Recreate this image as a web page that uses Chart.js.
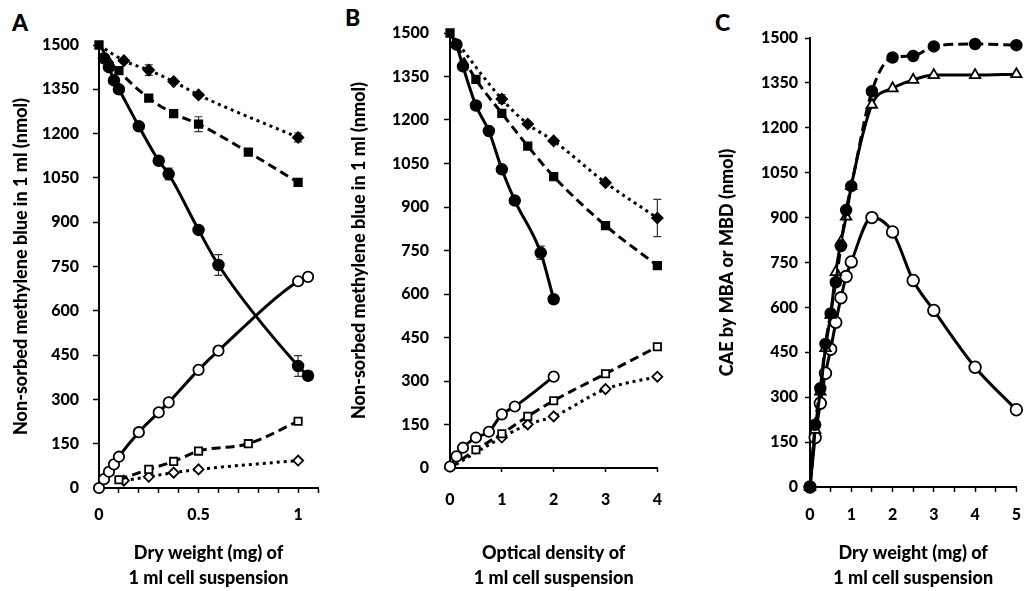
<!DOCTYPE html>
<html><head><meta charset="utf-8">
<script src="https://cdn.jsdelivr.net/npm/chart.js@4/dist/chart.umd.min.js"></script>
<style>
html,body{margin:0;padding:0;background:#fff;width:1034px;height:591px;overflow:hidden;}
canvas{position:absolute;top:0;}
.lbl{position:absolute;font:900 23px Lato, "Open Sans", sans-serif;line-height:1;color:#000;}
</style></head><body>
<div class="lbl" style="left:12px;top:11px">A</div>
<div class="lbl" style="left:345px;top:6px">B</div>
<div class="lbl" style="left:715px;top:11px">C</div>
<canvas id="ca" width="330" height="591" style="left:0px"></canvas>
<canvas id="cb" width="342" height="591" style="left:338px"></canvas>
<canvas id="cc" width="328" height="591" style="left:706px"></canvas>
<script>
// ---------- Panel A: dry weight (mg) ----------
const aCircX      = [0.025,0.05,0.075,0.1,0.2,0.3,0.35,0.5,0.6,1,1.05];
const aCircFilled = [1455,1425,1380,1350,1225,1108,1063,874,755,413,380];
const aCircFilledErr = [0,0,0,0,0,0,20,0,35,35,0];
const aOpenCircX  = [0,0.025,0.05,0.075,0.1,0.2,0.3,0.35,0.5,0.6,1,1.05];
const aCircOpen   = [0,30,55,80,106,189,256,290,400,465,700,715];
const aSqX        = [0,0.1,0.25,0.375,0.5,0.75,1];
const aSqFilled   = [1500,1413,1320,1268,1232,1137,1035];
const aSqFilledErr= [0,0,0,0,25,0,0];
const aDiaX       = [0,0.125,0.25,0.375,0.5,1];
const aDiaFilled  = [1500,1447,1415,1376,1331,1187];
const aDiaFilledErr=[0,0,18,0,0,15];
const aOpenSqX    = [0.1,0.25,0.375,0.5,0.75,1];
const aSqOpen     = [28,63,90,125,150,226];
const aOpenDiaX   = [0.125,0.25,0.375,0.5,1];
const aDiaOpen    = [25,38,52,63,93];
const aXLabels    = [0,0.5,1];

// ---------- Panel B: optical density ----------
const bCircX      = [0.125,0.25,0.5,0.75,1,1.25,1.75,2];
const bCircFilled = [1460,1385,1250,1162,1030,922,742,582];
const bCircFilledErr = [0,0,0,0,0,0,23,0];
const bOpenCircX  = [0,0.125,0.25,0.5,0.75,1,1.25,2];
const bCircOpen   = [5,40,70,105,125,185,212,315];
const bSqX        = [0,0.5,1,1.5,2,3,4];
const bSqFilled   = [1500,1340,1223,1110,1005,836,698];
const bSqOpen     = [0,63,118,178,232,325,418];
const bDiaX       = [0,1,1.5,2,3,4];
const bDiaFilled  = [1500,1272,1186,1128,984,862];
const bDiaFilledErr=[0,15,0,0,0,64];
const bDiaOpen    = [0,105,150,178,272,315];
const bXLabels    = [0,1,2,3,4];

// ---------- Panel C: CAE ----------
const cX        = [0,0.125,0.25,0.375,0.5,0.625,0.75,0.875,1,1.5,2,2.5,3,4,5];
const cCircFilled = [0,208,330,478,580,684,805,925,1005,1322,1435,1440,1472,1480,1476];
const cTriOpen    = [0,191,319,464,575,718,819,903,1005,1277,1332,1360,1376,1376,1379];
const cCircOpen   = [0,165,280,380,460,550,632,703,752,900,852,690,590,400,258];
const cXLabels    = [0,1,2,3,4,5];

const yTitleAB = 'Non-sorbed methylene blue in 1 ml (nmol)';
const yTitleC  = 'CAE by MBA or MBD (nmol)';
const xTitleDW = ['Dry weight (mg) of','1 ml cell suspension'];
const xTitleOD = ['Optical density of','1 ml cell suspension'];

Chart.defaults.font.family = 'Lato, "Open Sans", sans-serif';
Chart.defaults.color = '#000';

function pts(xs, ys){ return xs.map((x,i)=>({x:x, y:ys[i]})); }
function ds(xs, ys, o){
  return Object.assign({
    data: pts(xs, ys), borderColor:'#000', borderWidth:3,
    pointBorderColor:'#000', pointBorderWidth:1.5, pointRadius:5.5,
    pointBackgroundColor:'#000', clip:false, fill:false,
    cubicInterpolationMode:'monotone'
  }, o);
}
const DASH=[9,5], DOT=[3,4];
const filledC = {pointStyle:'circle', pointBackgroundColor:'#000'};
const openC   = {pointStyle:'circle', pointBackgroundColor:'#fff', pointBorderWidth:1.8, pointRadius:5.2};
const filledS = {pointStyle:'rect', pointBackgroundColor:'#000', pointRadius:5.5};
const openS   = {pointStyle:'rect', pointBackgroundColor:'#fff', pointBorderWidth:1.8, pointRadius:5.2};
const filledD = {pointStyle:'rectRot', pointBackgroundColor:'#000', pointRadius:5.5};
const openD   = {pointStyle:'rectRot', pointBackgroundColor:'#fff', pointBorderWidth:1.8, pointRadius:5};
const openT   = {pointStyle:'triangle', pointBackgroundColor:'#fff', pointBorderWidth:1.8, pointRadius:6};

const errPlugin = {
  id:'errbars',
  beforeDatasetsDraw(chart){
    const ctx = chart.ctx, ys = chart.scales.y;
    chart.data.datasets.forEach((d,i)=>{
      if(!d.err) return;
      const meta = chart.getDatasetMeta(i);
      ctx.save(); ctx.strokeStyle='#333'; ctx.lineWidth=1.2;
      d.err.forEach((e,j)=>{
        if(!e) return;
        const p = meta.data[j], v = d.data[j].y;
        const y1 = ys.getPixelForValue(v+e), y2 = ys.getPixelForValue(v-e);
        ctx.beginPath();
        ctx.moveTo(p.x,y1); ctx.lineTo(p.x,y2);
        ctx.moveTo(p.x-4,y1); ctx.lineTo(p.x+4,y1);
        ctx.moveTo(p.x-4,y2); ctx.lineTo(p.x+4,y2);
        ctx.stroke();
      });
      ctx.restore();
    });
  }
};

function near(v, list){ return list.some(t=>Math.abs(t-v)<1e-6); }
const TICKFONT = {size:16, weight:'900'};
const TITLEFONT = {size:18, weight:'900'};

function makeChart(id, datasets, o){
  return new Chart(document.getElementById(id), {
    type:'line',
    data:{datasets:datasets},
    plugins:[errPlugin],
    options:{
      responsive:false, animation:false,
      layout:{padding:{top:o.top, right:o.right, bottom:0, left:0}},
      plugins:{legend:{display:false}, tooltip:{enabled:false}},
      elements:{line:{borderCapStyle:'butt'}},
      scales:{
        x:{
          type:'linear', min:o.xmin, max:o.xmax,
          ticks:{stepSize:o.xstep, autoSkip:false, maxRotation:0, minRotation:0,
                 padding:o.xpad, font:TICKFONT, color:'#000',
                 callback:(v)=> near(v,o.xlabels) ? String(Math.round(v*10)/10) : ''},
          grid:{drawOnChartArea:false, drawTicks:true, tickLength:o.xtl, tickWidth:1.5, tickColor:'#000'},
          border:{display:true, color:'#000', width:2},
          title:{display:true, text:o.xtitle, color:'#000',
                 font:Object.assign({lineHeight:1.4}, TITLEFONT), padding:{top:0,bottom:0}},
          afterFit(s){ s.height = o.xh; }
        },
        y:{
          type:'linear', min:0, max:1500,
          ticks:{stepSize:150, autoSkip:false, padding:o.ypad,
                 font:TICKFONT, color:'#000', callback:(v)=>String(Math.round(v))},
          grid:{drawOnChartArea:false, drawTicks:true, tickLength:o.ytl, tickWidth:1.5, tickColor:'#000'},
          border:{display:true, color:'#000', width:2},
          title:{display:true, text:o.ytitle, color:'#000',
                 font:Object.assign({lineHeight:1.2}, TITLEFONT), padding:{top:10,bottom:0}},
          afterFit(s){ s.width = o.yw; }
        }
      }
    }
  });
}

// Panel A
makeChart('ca', [
  ds(aCircX, aCircFilled, Object.assign({err:aCircFilledErr}, filledC)),
  ds(aSqX, aSqFilled, Object.assign({err:aSqFilledErr, borderDash:DASH}, filledS)),
  ds(aDiaX, aDiaFilled, Object.assign({err:aDiaFilledErr, borderDash:DOT}, filledD, {pointRadius:[0,5.5,5.5,5.5,5.5,5.5]})),
  ds(aOpenCircX, aCircOpen, openC),
  ds(aOpenSqX, aSqOpen, Object.assign({borderDash:DASH}, openS)),
  ds(aOpenDiaX, aDiaOpen, Object.assign({borderDash:DOT}, openD))
], {top:45, right:12, xmin:0, xmax:1.1, xstep:0.1, xlabels:aXLabels, xpad:12, xtl:5, xh:103,
    ypad:14, ytl:6, yw:99, xtitle:xTitleDW, ytitle:yTitleAB});

// Panel B
makeChart('cb', [
  ds(bCircX, bCircFilled, Object.assign({err:bCircFilledErr}, filledC)),
  ds(bSqX, bSqFilled, Object.assign({borderDash:DASH}, filledS)),
  ds(bDiaX, bDiaFilled, Object.assign({err:bDiaFilledErr, borderDash:DOT}, filledD, {pointRadius:[0,5.5,5.5,5.5,5.5,5.5]})),
  ds(bOpenCircX, bCircOpen, openC),
  ds(bSqX, bSqOpen, Object.assign({borderDash:DASH}, openS, {pointRadius:[0,5.2,5.2,5.2,5.2,5.2,5.2]})),
  ds(bDiaX, bDiaOpen, Object.assign({borderDash:DOT}, openD, {pointRadius:[0,5,5,5,5,5]}))
], {top:33, right:13, xmin:0, xmax:4, xstep:1, xlabels:bXLabels, xpad:18, xtl:4, xh:123,
    ypad:15, ytl:6, yw:112, xtitle:xTitleOD, ytitle:yTitleAB});

// Panel C
makeChart('cc', [
  ds(cX, cCircFilled, Object.assign({borderDash:[10,5]}, filledC)),
  ds(cX, cTriOpen, openT),
  ds(cX, cCircOpen, Object.assign({}, openC, {pointRadius:5.8}))
], {top:38, right:5, xmin:0, xmax:5, xstep:0.5, xlabels:cXLabels, xpad:13, xtl:5, xh:104,
    ypad:7, ytl:5, yw:104, xtitle:xTitleDW, ytitle:yTitleC});
</script>
</body></html>
